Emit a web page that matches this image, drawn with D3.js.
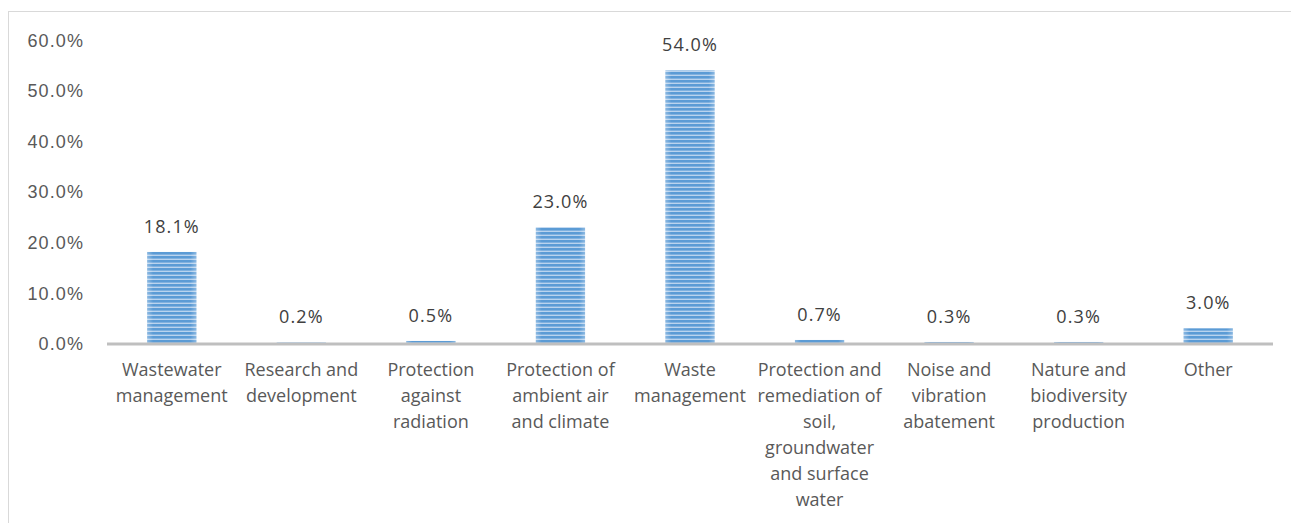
<!DOCTYPE html>
<html>
<head>
<meta charset="utf-8">
<script src="https://cdn.jsdelivr.net/npm/d3@7"></script>
<style>
  html, body { margin: 0; padding: 0; background: #fff; }
  svg { display: block; font-family: "Open Sans", "Noto Sans", sans-serif; }
</style>
</head>
<body>
<svg id="chart" width="1291" height="523"></svg>
<script>
const categories = [
  "Wastewater management",
  "Research and development",
  "Protection against radiation",
  "Protection of ambient air and climate",
  "Waste management",
  "Protection and remediation of soil, groundwater and surface water",
  "Noise and vibration abatement",
  "Nature and biodiversity production",
  "Other"
];
const values = [18.1, 0.2, 0.5, 23.0, 54.0, 0.7, 0.3, 0.3, 3.0];
const yTicks = [0, 10, 20, 30, 40, 50, 60];

const svg = d3.select("#chart");
const W = 1291, H = 523;
const margin = { left: 107, right: 18, top: 40, bottom: 180 };
const FS = "18px", NUM_LS = "1.1px";

// frame
svg.append("rect")
  .attr("x", 8.5).attr("y", 11.5)
  .attr("width", W + 10).attr("height", H + 10)
  .attr("fill", "#fff").attr("stroke", "#d9d9d9").attr("stroke-width", 1);

const defs = svg.append("defs");
const pat = defs.append("pattern")
  .attr("id", "stripes")
  .attr("patternUnits", "userSpaceOnUse")
  .attr("width", 8).attr("height", 4);
pat.append("rect").attr("width", 8).attr("height", 4).attr("fill", "#b9d3ee");
pat.append("rect").attr("width", 8).attr("height", 2.6).attr("fill", "#5b9bd5");

const grad = defs.append("linearGradient").attr("id", "edge")
  .attr("x1", "0").attr("x2", "1").attr("y1", "0").attr("y2", "0");
grad.append("stop").attr("offset", "0").attr("stop-color", "#fff").attr("stop-opacity", 0.3);
grad.append("stop").attr("offset", "0.12").attr("stop-color", "#fff").attr("stop-opacity", 0.0);
grad.append("stop").attr("offset", "0.88").attr("stop-color", "#fff").attr("stop-opacity", 0.0);
grad.append("stop").attr("offset", "1").attr("stop-color", "#fff").attr("stop-opacity", 0.3);

const x = d3.scaleBand()
  .domain(categories)
  .range([margin.left, 1273])
  .paddingInner(0.62)
  .paddingOuter(0.31);

const y = d3.scaleLinear()
  .domain([0, 60])
  .range([343.5, 40]);

// y axis labels
const yAxis = d3.axisLeft(y)
  .tickValues(yTicks)
  .tickFormat(d => d3.format(".1f")(d) + "%")
  .tickSize(0)
  .tickPadding(0);
const yg = svg.append("g")
  .attr("transform", "translate(84,0)")
  .call(yAxis);
yg.select(".domain").remove();
yg.selectAll("text")
  .attr("fill", "#595959")
  .style("font-size", FS)
  .style("letter-spacing", NUM_LS)
  .attr("font-family", null)
  .attr("dy", "0.34em");

// bars
const bars = svg.append("g");
categories.forEach((c, i) => {
  const bx = x(c), bw = x.bandwidth();
  const by = y(values[i]), bh = y(0) - y(values[i]);
  bars.append("rect")
    .attr("x", bx).attr("y", by).attr("width", bw).attr("height", bh)
    .attr("fill", "url(#stripes)");
  bars.append("rect")
    .attr("x", bx).attr("y", by).attr("width", bw).attr("height", bh)
    .attr("fill", "url(#edge)");
});

// x axis line
svg.append("line")
  .attr("x1", margin.left).attr("x2", 1273)
  .attr("y1", y(0) + 0.5).attr("y2", y(0) + 0.5)
  .attr("stroke", "#bfbfbf").attr("stroke-width", 3);

// data labels
svg.append("g").selectAll("text")
  .data(values)
  .join("text")
  .attr("x", (d, i) => x(categories[i]) + x.bandwidth() / 2)
  .attr("y", d => y(d) - 19)
  .attr("text-anchor", "middle")
  .attr("fill", "#404040")
  .style("font-size", FS)
  .style("letter-spacing", NUM_LS)
  .text(d => d3.format(".1f")(d) + "%");

// category labels with wrapping
const step = x.step();
const catG = svg.append("g");
categories.forEach((c, i) => {
  const cx = x(c) + x.bandwidth() / 2;
  const t = catG.append("text")
    .attr("x", cx).attr("y", 376)
    .attr("text-anchor", "middle")
    .attr("fill", "#595959")
    .style("font-size", FS);
  const words = c.split(" ");
  let line = [];
  let tspan = t.append("tspan").attr("x", cx).attr("dy", 0);
  words.forEach(w => {
    line.push(w);
    tspan.text(line.join(" "));
    if (tspan.node().getComputedTextLength() > step + 1 && line.length > 1) {
      line.pop();
      tspan.text(line.join(" "));
      line = [w];
      tspan = t.append("tspan").attr("x", cx).attr("dy", 26).text(w);
    }
  });
});
</script>
</body>
</html>
